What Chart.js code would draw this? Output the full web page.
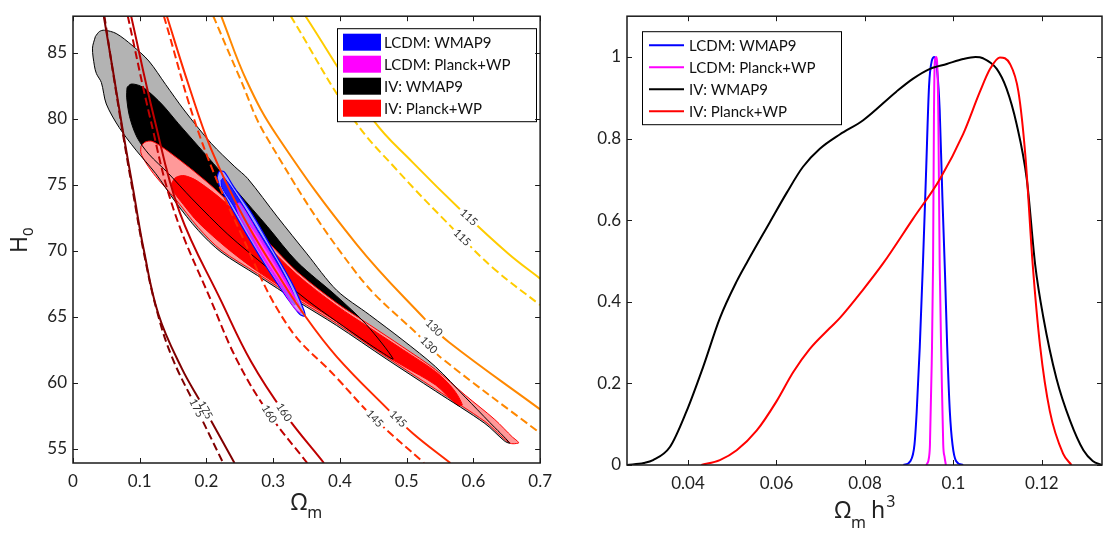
<!DOCTYPE html>
<html>
<head>
<meta charset="utf-8">
<script src="https://cdn.jsdelivr.net/npm/chart.js@4.4.0/dist/chart.umd.min.js"></script>
<style>
  body { margin: 0; background: #fff; }
  #wrap { position: relative; width: 1104px; height: 534px; }
  canvas { position: absolute; top: 0; }
</style>
</head>
<body>
<div id="wrap">
  <canvas id="contourChart" width="560" height="534" style="left:0px"></canvas>
  <canvas id="densityChart" width="544" height="534" style="left:560px"></canvas>
</div>
<script>
// ---- left panel: Omega_m vs H0 ----
const omTicks = [0, 0.1, 0.2, 0.3, 0.4, 0.5, 0.6, 0.7];
const h0Ticks = [55, 60, 65, 70, 75, 80, 85];

// filled confidence regions [Omega_m, H0]
const ivWmap95 = [[0.0336,86.24],[0.0396,86.61],[0.047,86.71],[0.0647,86.46],[0.0884,85.57],[0.1136,84.38],[0.1388,82.6],[0.1664,80.67],[0.207,78.15],[0.2425,76.37],[0.2618,75.48],[0.3062,72.58],[0.3507,69.77],[0.3951,67.02],[0.444,65.17],[0.4944,63.24],[0.5433,61.23],[0.5877,58.93],[0.6247,57.0],[0.6544,55.45],[0.647,55.59],[0.6173,56.93],[0.5433,59.38],[0.4692,61.83],[0.3951,64.35],[0.3358,66.2],[0.2766,68.13],[0.2218,69.91],[0.1877,71.55],[0.1536,73.7],[0.124,75.85],[0.0944,77.63],[0.0692,79.34],[0.0499,81.12],[0.0425,82.75],[0.0351,83.42],[0.0321,84.01],[0.0292,85.35]];
const ivWmap68 = [[0.081,82.38],[0.087,82.63],[0.0988,82.53],[0.1092,82.23],[0.1329,81.12],[0.1581,79.63],[0.1877,77.93],[0.2173,76.22],[0.247,74.44],[0.2914,71.84],[0.3358,69.17],[0.3951,66.57],[0.4396,64.42],[0.4796,61.83],[0.4618,62.35],[0.4396,63.09],[0.3951,64.65],[0.3507,66.28],[0.2914,68.73],[0.2321,71.25],[0.1773,74.0],[0.1433,75.85],[0.1136,77.33],[0.0959,78.6],[0.0848,80.16],[0.0804,81.64]];
const ivPlanck95 = [[0.1018,77.93],[0.1077,78.23],[0.1181,78.3],[0.1359,77.78],[0.1729,76.37],[0.2099,74.81],[0.247,73.03],[0.2914,70.73],[0.3358,68.43],[0.3951,66.06],[0.444,64.42],[0.4944,62.72],[0.5433,61.01],[0.5877,59.08],[0.6321,57.23],[0.6588,55.89],[0.6662,55.59],[0.6677,55.45],[0.6544,55.45],[0.6173,57.08],[0.5433,59.53],[0.4692,61.98],[0.3951,64.5],[0.3358,66.35],[0.2766,68.28],[0.2218,70.06],[0.1877,71.77],[0.1536,73.92],[0.124,75.63],[0.1092,76.67],[0.1018,77.41]];
const ivPlanck68 = [[0.1477,75.11],[0.1536,75.55],[0.1669,75.7],[0.1877,75.25],[0.2321,73.5],[0.2766,71.15],[0.3358,68.2],[0.3951,65.85],[0.444,64.2],[0.4944,62.52],[0.5433,60.86],[0.57,59.53],[0.5833,58.34],[0.5758,58.34],[0.5433,59.85],[0.4944,61.3],[0.444,62.85],[0.3951,64.65],[0.3358,66.5],[0.2766,68.45],[0.2321,70.15],[0.1877,72.15],[0.1655,73.5],[0.1507,74.5]];
const lcdmWmap95 = [[0.2159,75.55],[0.2188,76.0],[0.2262,76.0],[0.2395,74.96],[0.2692,72.73],[0.2988,70.14],[0.3284,67.54],[0.3447,65.68],[0.3477,65.09],[0.3403,65.17],[0.321,66.43],[0.2914,68.65],[0.2618,71.1],[0.2351,73.48],[0.2203,74.81]];
const lcdmWmap68 = [[0.2218,75.33],[0.2262,75.55],[0.247,74.07],[0.2766,71.62],[0.3062,69.17],[0.33,66.8],[0.3329,65.91],[0.324,66.35],[0.2988,68.43],[0.2692,70.88],[0.2395,73.48],[0.2232,74.81]];
const lcdmPlanck95 = [[0.244,73.48],[0.2499,73.62],[0.2766,71.4],[0.3092,68.65],[0.3358,66.2],[0.3418,65.32],[0.3329,65.61],[0.3062,67.69],[0.2766,70.14],[0.2499,72.58]];
const lcdmPlanck68 = [[0.2618,71.9],[0.2647,72.0],[0.2884,70.2],[0.318,67.7],[0.3329,66.3],[0.3290,66.35],[0.2933,68.9],[0.2740,70.6]];

// constant-value curves, solid and dashed
const c175Solid  = [[0.046,87.8],[0.06,83.6],[0.075,79.0],[0.091,74.4],[0.106,70.1],[0.128,65.2],[0.163,61.1],[0.193,58.4],[0.242,53.94]];
const c175Dashed = [[0.047,87.8],[0.06,83.5],[0.075,78.8],[0.09,74.4],[0.106,69.9],[0.125,65.6],[0.148,62.0],[0.185,58.1],[0.225,53.94]];
const c160Solid  = [[0.087,87.8],[0.121,80.2],[0.16,72.9],[0.223,66.1],[0.267,61.6],[0.317,57.7],[0.376,53.94]];
const c160Dashed = [[0.082,87.8],[0.115,80.2],[0.151,73.1],[0.208,66.1],[0.247,61.6],[0.294,57.65],[0.351,53.94]];
const c145Solid  = [[0.1405,87.8],[0.173,82.6],[0.207,77.7],[0.255,72.6],[0.306,68.3],[0.346,65.2],[0.395,62.0],[0.472,58.0],[0.509,56.2],[0.5655,53.94]];
const c145Dashed = [[0.136,87.8],[0.19,78.7],[0.25,71.5],[0.321,64.4],[0.395,60.4],[0.452,57.3],[0.526,53.94]];
const c130Solid  = [[0.222,87.8],[0.26,82.9],[0.306,78.7],[0.425,70.5],[0.528,64.8],[0.563,63.1],[0.7,58.0]];
const c130Dashed = [[0.21,87.8],[0.25,83.1],[0.289,78.7],[0.425,68.3],[0.524,63.3],[0.553,61.85],[0.7,56.2]];
const c115Solid  = [[0.348,87.8],[0.45,79.9],[0.509,76.7],[0.583,73.0],[0.652,69.8],[0.7,67.9]];
const c115Dashed = [[0.326,87.8],[0.42,80.0],[0.484,76.2],[0.573,71.5],[0.632,68.6],[0.7,65.9]];
const curveLevels = ['175', '175', '160', '160', '145', '145', '130', '130', '115', '115'];
const curveLabelOm = [0.198, 0.185, 0.316, 0.294, 0.487, 0.452, 0.541, 0.533, 0.593, 0.583];

// ---- right panel: Omega_m h^3 distributions ----
const omh3Ticks = [0.04, 0.06, 0.08, 0.1, 0.12];
const probTicks = [0, 0.2, 0.4, 0.6, 0.8, 1];
const pdfLcdmWmap = [[0.0887,0],[0.0903,0.01],[0.0912,0.05],[0.0917,0.13],[0.0924,0.29],[0.0931,0.49],[0.0938,0.71],[0.0945,0.93],[0.0951,0.99],[0.0957,1.0],[0.0963,0.97],[0.0969,0.87],[0.0975,0.66],[0.0981,0.47],[0.0986,0.29],[0.0992,0.13],[0.0998,0.05],[0.1006,0.01],[0.1022,0]];
const pdfLcdmPlanck = [[0.0939,0],[0.0945,0.02],[0.0947,0.05],[0.0951,0.25],[0.0954,0.49],[0.0956,0.85],[0.0958,0.99],[0.0961,1.0],[0.0963,0.99],[0.0966,0.85],[0.0969,0.49],[0.0973,0.25],[0.0977,0.05],[0.098,0.02],[0.0983,0]];
const pdfIvWmap = [[0.0262,0],[0.03,0.005],[0.0321,0.012],[0.0359,0.044],[0.0396,0.13],[0.0434,0.24],[0.0472,0.36],[0.051,0.45],[0.0532,0.494],[0.0585,0.595],[0.0623,0.667],[0.066,0.731],[0.0698,0.775],[0.0743,0.81],[0.0796,0.845],[0.0871,0.915],[0.0909,0.947],[0.0947,0.971],[0.0985,0.983],[0.1022,0.995],[0.105,1.0],[0.1067,0.997],[0.1098,0.971],[0.112,0.923],[0.1143,0.835],[0.1166,0.70],[0.1185,0.49],[0.1203,0.364],[0.1233,0.212],[0.1264,0.108],[0.1294,0.036],[0.1315,0.01],[0.1336,0]];
const pdfIvPlanck = [[0.043,0],[0.0472,0.012],[0.051,0.036],[0.0555,0.084],[0.06,0.156],[0.0638,0.228],[0.0675,0.284],[0.072,0.335],[0.0743,0.36],[0.0796,0.43],[0.0841,0.494],[0.0909,0.604],[0.0969,0.70],[0.1022,0.811],[0.106,0.915],[0.1083,0.971],[0.1105,0.999],[0.1128,0.983],[0.1147,0.915],[0.1163,0.755],[0.1179,0.496],[0.1196,0.292],[0.1218,0.132],[0.1248,0.028],[0.1267,0]];

const seriesNames = ['LCDM: WMAP9', 'LCDM: Planck+WP', 'IV: WMAP9', 'IV: Planck+WP'];
const seriesColors = ['#0000ff', '#ff00ff', '#000000', '#ff0000'];

const tickFont = { family: 'Lato, "Open Sans", sans-serif', size: 17 };
const textColor = '#222';

function pts(a) { return a.map(p => ({ x: p[0], y: p[1] })); }
function closed(a) { return pts(a.concat([a[0]])); }

function region(data, fillColor, lineColor, lineWidth, order) {
  return {
    data: closed(data), showLine: true, pointRadius: 0, tension: 0.3,
    backgroundColor: fillColor, borderColor: lineColor, borderWidth: lineWidth,
    fill: 'shape', order: order
  };
}
function outline(data, color, order) {
  return {
    data: closed(data), showLine: true, pointRadius: 0, tension: 0.3,
    borderColor: color, borderWidth: 1, fill: false, order: order
  };
}
function curve(data, color, dashed) {
  return {
    data: pts(data), showLine: true, pointRadius: 0, tension: 0.4,
    borderColor: color, borderWidth: 2, borderDash: dashed ? [8, 4] : [],
    fill: false, order: 1
  };
}

// inward ticks on all four sides and the box
function drawFrame(chart) {
  const { ctx, chartArea: a, scales: { x, y } } = chart;
  ctx.save();
  ctx.strokeStyle = '#1a1a1a';
  ctx.lineWidth = 1;
  ctx.beginPath();
  x.ticks.forEach(t => {
    const px = Math.round(x.getPixelForValue(t.value)) + 0.5;
    ctx.moveTo(px, a.bottom); ctx.lineTo(px, a.bottom - 5);
    ctx.moveTo(px, a.top); ctx.lineTo(px, a.top + 5);
  });
  y.ticks.forEach(t => {
    const py = Math.round(y.getPixelForValue(t.value)) + 0.5;
    ctx.moveTo(a.left, py); ctx.lineTo(a.left + 5, py);
    ctx.moveTo(a.right, py); ctx.lineTo(a.right - 5, py);
  });
  ctx.stroke();
  ctx.lineWidth = 1.5;
  ctx.strokeRect(a.left, a.top, a.right - a.left, a.bottom - a.top);
  ctx.restore();
}

function drawLegend(ctx, lx, ly, swatch) {
  const lw = 199, lh = 93;
  ctx.save();
  ctx.fillStyle = '#fff';
  ctx.fillRect(lx, ly, lw, lh);
  ctx.strokeStyle = '#000';
  ctx.lineWidth = 1;
  ctx.strokeRect(lx + 0.5, ly + 0.5, lw, lh);
  ctx.font = '15px Lato, "Open Sans", sans-serif';
  ctx.textBaseline = 'middle';
  seriesNames.forEach((name, i) => {
    const cy = ly + 14 + i * 22;
    if (swatch) {
      ctx.fillStyle = seriesColors[i];
      ctx.fillRect(lx + 6, cy - 8.5, 38, 17);
    } else {
      ctx.strokeStyle = seriesColors[i];
      ctx.lineWidth = 2;
      ctx.beginPath(); ctx.moveTo(lx + 7, cy); ctx.lineTo(lx + 42, cy); ctx.stroke();
    }
    ctx.fillStyle = '#111';
    ctx.fillText(name, lx + 47, cy + 1);
  });
  ctx.restore();
}

const levelCurves = [c175Solid, c175Dashed, c160Solid, c160Dashed, c145Solid, c145Dashed, c130Solid, c130Dashed, c115Solid, c115Dashed];
const levelColors = ['#800000', '#800000', '#bf0000', '#bf0000', '#ff2a00', '#ff2a00', '#ff8800', '#ff8800', '#ffcc00', '#ffcc00'];

const contourDecor = {
  id: 'contourDecor',
  afterDatasetsDraw(chart) {
    const { ctx, scales: { x, y } } = chart;
    ctx.save();
    ctx.font = '11px Lato, "Open Sans", sans-serif';
    ctx.textAlign = 'center';
    ctx.textBaseline = 'middle';
    levelCurves.forEach((c, i) => {
      const p = c.map(q => [x.getPixelForValue(q[0]), y.getPixelForValue(q[1])]);
      const tx = x.getPixelForValue(curveLabelOm[i]);
      let k = 0;
      while (k < p.length - 2 && p[k + 1][0] < tx) k++;
      const t = (tx - p[k][0]) / (p[k + 1][0] - p[k][0]);
      const ty = p[k][1] + t * (p[k + 1][1] - p[k][1]);
      const ang = Math.atan2(p[k + 1][1] - p[k][1], p[k + 1][0] - p[k][0]);
      ctx.save();
      ctx.translate(tx, ty);
      ctx.rotate(ang);
      const w = ctx.measureText(curveLevels[i]).width + 5;
      ctx.fillStyle = '#fff';
      ctx.fillRect(-w / 2, -4, w, 8);
      ctx.fillStyle = '#333';
      ctx.fillText(curveLevels[i], 0, 0);
      ctx.restore();
    });
    ctx.restore();
  },
  afterDraw(chart) {
    const { ctx, chartArea: a } = chart;
    drawLegend(ctx, a.left + 264, a.top + 12, true);
    drawFrame(chart);
    ctx.save();
    ctx.fillStyle = textColor;
    ctx.textBaseline = 'alphabetic';
    // x title: Omega_m
    const big = '23px "Noto Sans", sans-serif', small = '16px "Noto Sans", sans-serif';
    ctx.font = big; const wO = ctx.measureText('Ω').width;
    ctx.font = small; const wm = ctx.measureText('m').width;
    const sx = (a.left + a.right) / 2 - (wO + wm) / 2;
    ctx.font = big; ctx.fillText('Ω', sx, 510);
    ctx.font = small; ctx.fillText('m', sx + wO, 518);
    // y title: H_0
    ctx.translate(27, 243);
    ctx.rotate(-Math.PI / 2);
    ctx.font = '23px "Noto Sans", sans-serif';
    const wH = ctx.measureText('H').width;
    ctx.fillText('H', -10, 0);
    ctx.font = '15px "Noto Sans", sans-serif';
    ctx.fillText('0', -10 + wH, 6);
    ctx.restore();
  }
};

new Chart(document.getElementById('contourChart'), {
  type: 'scatter',
  data: {
    datasets: [
      region(ivWmap95, '#b3b3b3', 'rgba(0,0,0,0)', 0, 100),
      region(ivWmap68, '#000000', 'rgba(0,0,0,0)', 0, 90),
      region(ivPlanck95, '#ff9999', '#ff0000', 1, 80),
      region(ivPlanck68, '#ff0000', '#ff0000', 1, 70),
      outline(ivWmap95, '#000000', 60),
      outline(ivWmap68, '#000000', 55),
      region(lcdmWmap95, '#a0a0ff', '#0000ff', 1.2, 50),
      region(lcdmWmap68, '#2020ff', '#0000ff', 1, 45),
      region(lcdmPlanck95, 'rgba(255,150,255,0.55)', '#ff00ff', 1, 40),
      region(lcdmPlanck68, '#ff40ff', '#ff00ff', 1, 35),
      ...levelCurves.map((c, i) => curve(c, levelColors[i], i % 2 === 1))
    ]
  },
  options: {
    responsive: false,
    animation: false,
    devicePixelRatio: 1,
    layout: { padding: { top: 7, right: 14, left: 0, bottom: 0 } },
    plugins: { legend: { display: false }, tooltip: { enabled: false } },
    scales: {
      x: {
        type: 'linear', min: 0, max: 0.7,
        afterBuildTicks: s => { s.ticks = omTicks.map(v => ({ value: v })); },
        afterFit: s => { s.height = 71; },
        grid: { display: false, drawTicks: false },
        border: { display: false },
        ticks: { font: tickFont, color: textColor, padding: 8, maxRotation: 0, callback: v => String(v) }
      },
      y: {
        type: 'linear', min: 53.94, max: 87.77,
        afterBuildTicks: s => { s.ticks = h0Ticks.map(v => ({ value: v })); },
        afterFit: s => { s.width = 73; },
        grid: { display: false, drawTicks: false },
        border: { display: false },
        ticks: { font: tickFont, color: textColor, padding: 6, callback: v => String(v) }
      }
    }
  },
  plugins: [contourDecor]
});

const densityDecor = {
  id: 'densityDecor',
  afterDraw(chart) {
    const { ctx, chartArea: a } = chart;
    drawLegend(ctx, a.left + 15, a.top + 15, false);
    drawFrame(chart);
    ctx.save();
    ctx.fillStyle = textColor;
    const big = '23px "Noto Sans", sans-serif', small = '16px "Noto Sans", sans-serif';
    ctx.font = big; const wO = ctx.measureText('Ω').width; const wh = ctx.measureText('h').width;
    ctx.font = small; const wm = ctx.measureText('m').width; const w3 = ctx.measureText('3').width;
    const total = wO + wm + 5 + wh + w3;
    const sx = (a.left + a.right) / 2 - total / 2;
    ctx.font = big; ctx.fillText('Ω', sx, 518);
    ctx.font = small; ctx.fillText('m', sx + wO, 528);
    ctx.font = big; ctx.fillText('h', sx + wO + wm + 5, 518);
    ctx.font = small; ctx.fillText('3', sx + wO + wm + 5 + wh + 1, 507);
    ctx.restore();
  }
};

const pdfSeries = [pdfLcdmWmap, pdfLcdmPlanck, pdfIvWmap, pdfIvPlanck];
new Chart(document.getElementById('densityChart'), {
  type: 'scatter',
  data: {
    datasets: pdfSeries.map((s, i) => ({
      label: seriesNames[i], data: pts(s), showLine: true, pointRadius: 0,
      cubicInterpolationMode: 'monotone', borderColor: seriesColors[i], borderWidth: 2, order: 4 - i
    }))
  },
  options: {
    responsive: false,
    animation: false,
    devicePixelRatio: 1,
    layout: { padding: { top: 7, right: 2, left: 0, bottom: 0 } },
    plugins: { legend: { display: false }, tooltip: { enabled: false } },
    scales: {
      x: {
        type: 'linear', min: 0.0262, max: 0.1336,
        afterBuildTicks: s => { s.ticks = omh3Ticks.map(v => ({ value: v })); },
        afterFit: s => { s.height = 69; },
        grid: { display: false, drawTicks: false },
        border: { display: false },
        ticks: { font: tickFont, color: textColor, padding: 8, maxRotation: 0, callback: v => String(v) }
      },
      y: {
        type: 'linear', min: 0, max: 1.1,
        afterBuildTicks: s => { s.ticks = probTicks.map(v => ({ value: v })); },
        afterFit: s => { s.width = 67; },
        grid: { display: false, drawTicks: false },
        border: { display: false },
        ticks: { font: tickFont, color: textColor, padding: 6, callback: v => String(v) }
      }
    }
  },
  plugins: [densityDecor]
});
</script>
</body>
</html>
